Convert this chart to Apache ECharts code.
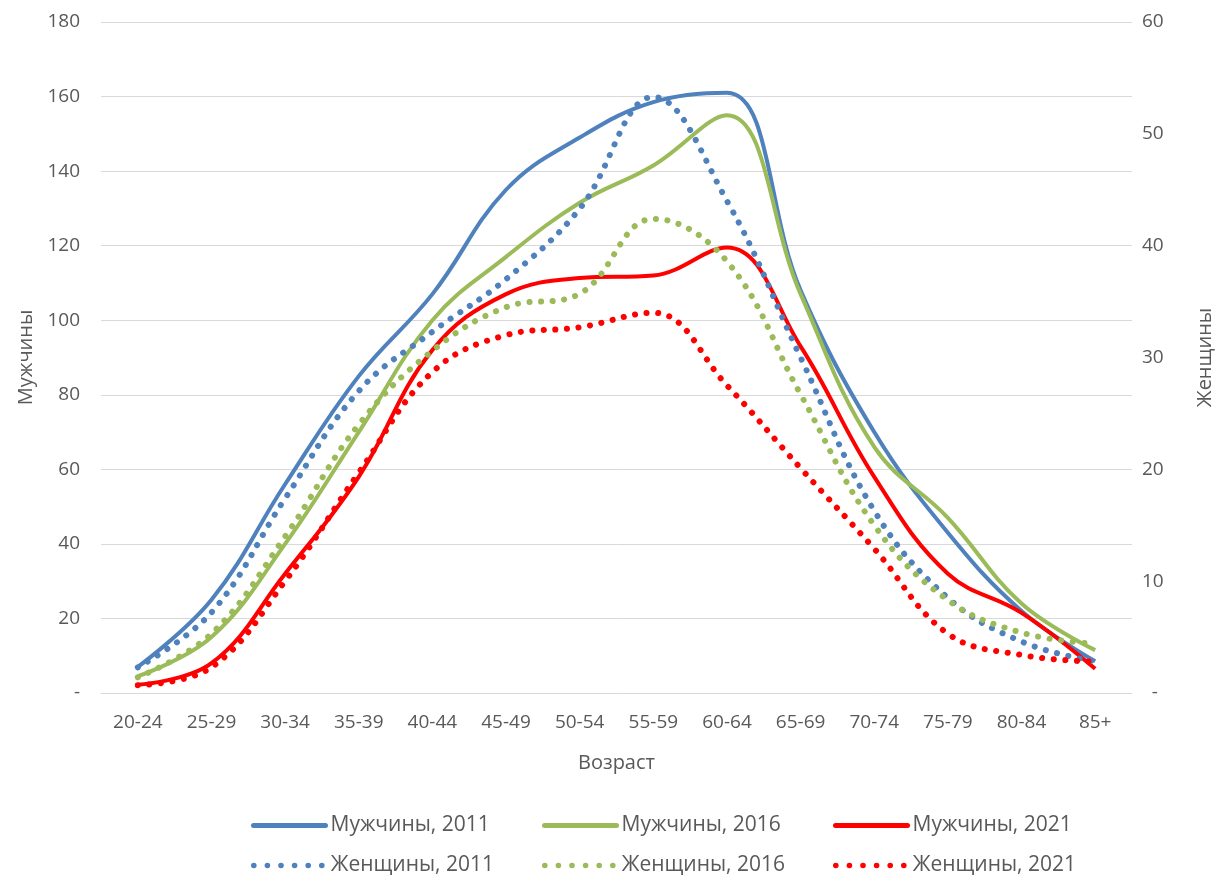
<!DOCTYPE html>
<html><head><meta charset="utf-8">
<script src="https://cdn.jsdelivr.net/npm/echarts@6/dist/echarts.min.js"></script>
<style>html,body{margin:0;padding:0;background:#fff}#c{width:1216px;height:876px}</style>
</head><body><div id="c"></div>
<script>
var categories = ['20-24','25-29','30-34','35-39','40-44','45-49','50-54','55-59','60-64','65-69','70-74','75-79','80-84','85+'];
var men2011 = [7, 25, 56, 85, 107, 135, 149, 158.5, 161, 108, 70, 43, 22, 8.5];
var men2016 = [4.5, 15, 40, 70, 100, 117, 131.5, 141.5, 155, 107, 66, 47, 24, 11.5];
var men2021 = [2.2, 8, 32, 58, 92, 107, 111.3, 112, 119.5, 93, 58, 32, 21.5, 6.5];
var women2011 = [2.3, 7.2, 17.4, 27, 32.3, 37, 43.3, 53.3, 44, 30, 16.3, 8.5, 4.6, 2.8];
var women2016 = [1.4, 5.3, 14, 24, 30.6, 34.5, 35.7, 42.4, 38.6, 26.7, 15, 8.3, 5.4, 4.4];
var women2021 = [0.7, 2.3, 10, 19.7, 28.7, 32, 32.7, 34, 27.5, 20.1, 12.9, 5.3, 3.4, 2.8];
var seriesNames = ['Мужчины, 2011','Мужчины, 2016','Мужчины, 2021','Женщины, 2011','Женщины, 2016','Женщины, 2021'];

var FONT = '"Open Sans"';
var TXT = '#595959';
var BLUE = '#4f81bd', GREEN = '#9bbb59', RED = '#ff0000';
var COLORS = [BLUE, GREEN, RED];
var dots = [0.1, 11.5];

function line(name, data, color, dotted, axis) {
  return {
    name: name, type: 'line', data: data, yAxisIndex: axis,
    smooth: 0.4, symbol: 'none',
    lineStyle: dotted ? {color: color, width: 6, type: dots, cap: 'round'} : {color: color, width: 4},
    itemStyle: {color: color}
  };
}

var colLeft = [246, 537, 828];
var legends = seriesNames.map(function (n, i) {
  var dotted = i >= 3;
  return {
    data: [n], left: colLeft[i % 3], top: dotted ? 850 : 810,
    itemWidth: 72, itemHeight: 10, itemGap: 0,
    itemStyle: {opacity: 0},
    lineStyle: dotted ? {width: 5.5, type: [0.1, 13.5], cap: 'round', color: COLORS[i % 3]}
                      : {width: 5, cap: 'round', color: COLORS[i % 3]},
    textStyle: {fontFamily: FONT, fontSize: 21, color: TXT, padding: [0, 0, 0, 0]}
  };
});

var chart = echarts.init(document.getElementById('c'));
chart.setOption({
  backgroundColor: '#fff',
  animation: false,
  textStyle: {fontFamily: FONT},
  grid: {left: 101, right: 84, top: 22, bottom: 183, containLabel: false, outerBoundsMode: 'none'},
  legend: legends,
  xAxis: {
    type: 'category', data: categories, boundaryGap: true,
    name: 'Возраст', nameLocation: 'middle', nameGap: 60,
    nameTextStyle: {fontFamily: FONT, fontSize: 20, color: TXT},
    axisLine: {lineStyle: {color: '#d9d9d9', width: 1}},
    axisTick: {show: false},
    axisLabel: {fontFamily: FONT, fontSize: 19, color: TXT, margin: 20}
  },
  yAxis: [{
    type: 'value', min: 0, max: 180, interval: 20,
    name: 'Мужчины', nameLocation: 'middle', nameGap: 65, nameRotate: 90,
    nameTextStyle: {fontFamily: FONT, fontSize: 20, color: TXT},
    axisLine: {show: false}, axisTick: {show: false},
    splitLine: {lineStyle: {color: '#d9d9d9', width: 1}},
    axisLabel: {fontFamily: FONT, fontSize: 19, color: TXT, margin: 21,
      formatter: function (v) { return v === 0 ? '-' : v; }}
  }, {
    type: 'value', min: 0, max: 60, interval: 10, position: 'right',
    name: 'Женщины', nameLocation: 'middle', nameGap: 63, nameRotate: 90,
    nameTextStyle: {fontFamily: FONT, fontSize: 20, color: TXT},
    axisLine: {show: false}, axisTick: {show: false},
    splitLine: {show: false},
    axisLabel: {fontFamily: FONT, fontSize: 19, color: TXT, margin: 10, align: 'left',
      formatter: function (v) { return v === 0 ? '  -' : v; }}
  }],
  series: [
    line(seriesNames[0], men2011, BLUE, false, 0),
    line(seriesNames[1], men2016, GREEN, false, 0),
    line(seriesNames[2], men2021, RED, false, 0),
    line(seriesNames[3], women2011, BLUE, true, 1),
    line(seriesNames[4], women2016, GREEN, true, 1),
    line(seriesNames[5], women2021, RED, true, 1)
  ]
});
</script></body></html>
